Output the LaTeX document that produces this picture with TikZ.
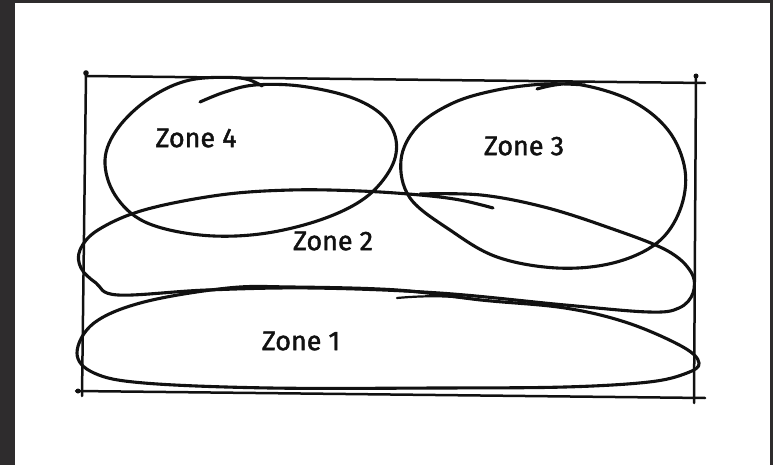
\documentclass[tikz,border=0pt]{standalone}
\usepackage{fontspec}
\newfontfamily\handfont{Fira Sans}[FakeBold=1.6]
\definecolor{ink}{HTML}{111111}
\definecolor{bezel}{HTML}{2E2C2D}
\begin{document}
\begin{tikzpicture}[x=1bp,y=-1bp,
  zone/.style={line width=3.1bp, draw=ink, line cap=round, line join=round},
  wisp/.style={line width=2.2bp, draw=ink, line cap=round},
  frame/.style={line width=2.5bp, draw=ink, line cap=round},
  pin/.style={fill=ink},
  tag/.style={font=\handfont\fontsize{27}{27}\selectfont, text=ink, inner sep=0pt}]
% page with dark bezel on three sides
\useasboundingbox (0,0) rectangle (773,465);
\fill[white] (0,0) rectangle (773,465);
\fill[bezel] (0,0) rectangle (15,465);
\fill[bezel] (0,0) rectangle (773,3);
\fill[bezel] (770,0) rectangle (773,465);

% outer frame, four loose strokes
\draw[frame] (86,74) -- (82,396);
\draw[frame] (86,76) -- (705,83);
\draw[frame] (696,76) -- (694,403);
\draw[frame] (76,391) -- (705,398);
\fill[pin] (86,73) circle (2.8);
\fill[pin] (696,76) circle (2.5);
\fill[pin] (78,391) circle (2.5);

% Zone 4
\draw[zone] plot[smooth, tension=0.6] coordinates {
  (262,86) (240,78) (190,80) (150,98) (118,128) (105,160) (115,195)
  (145,222) (200,235) (260,234) (320,220) (365,198) (391,168) (396,140)
  (382,115) (350,97) (300,86) (255,85) (225,92) (200,102)};

% Zone 3
\draw[zone] plot[smooth, tension=0.6] coordinates {
  (537,89) (575,84) (630,100) (668,130) (685,170) (680,210) (657,243)
  (613,263) (557,268) (497,257) (450,230) (410,198) (401,160) (417,127)
  (453,103) (497,90) (545,84) (585,85)};

% Zone 2
\draw[zone] plot[smooth, tension=0.6] coordinates {
  (420,194) (481,195) (544,207) (607,227) (666,250) (691,272) (693,293)
  (679,308) (649,312) (565,305) (439,293) (312,288) (207,290) (118,295)
  (96,283) (81,268) (80,250) (98,230) (144,210) (220,195) (291,190)
  (360,191) (420,195) (460,200) (493,208)};

% Zone 1
\draw[zone] plot[smooth cycle, tension=0.6] coordinates {
  (77,353) (94,323) (144,302) (228,288) (291,287) (397,290) (481,300)
  (565,308) (628,323) (683,347) (699,363) (687,373) (649,382) (565,387)
  (439,388) (270,388) (144,383) (94,373)};
\draw[wisp] (397,298) .. controls (430,295) and (455,296) .. (480,300);

% labels
\node[tag] (z4) at (196,138) {Zone 4};
\node[tag] (z3) at (524,146) {Zone 3};
\node[tag] (z2) at (333,241) {Zone 2};
\node[tag] (z1) at (301,341) {Zone 1};
\end{tikzpicture}
\end{document}
